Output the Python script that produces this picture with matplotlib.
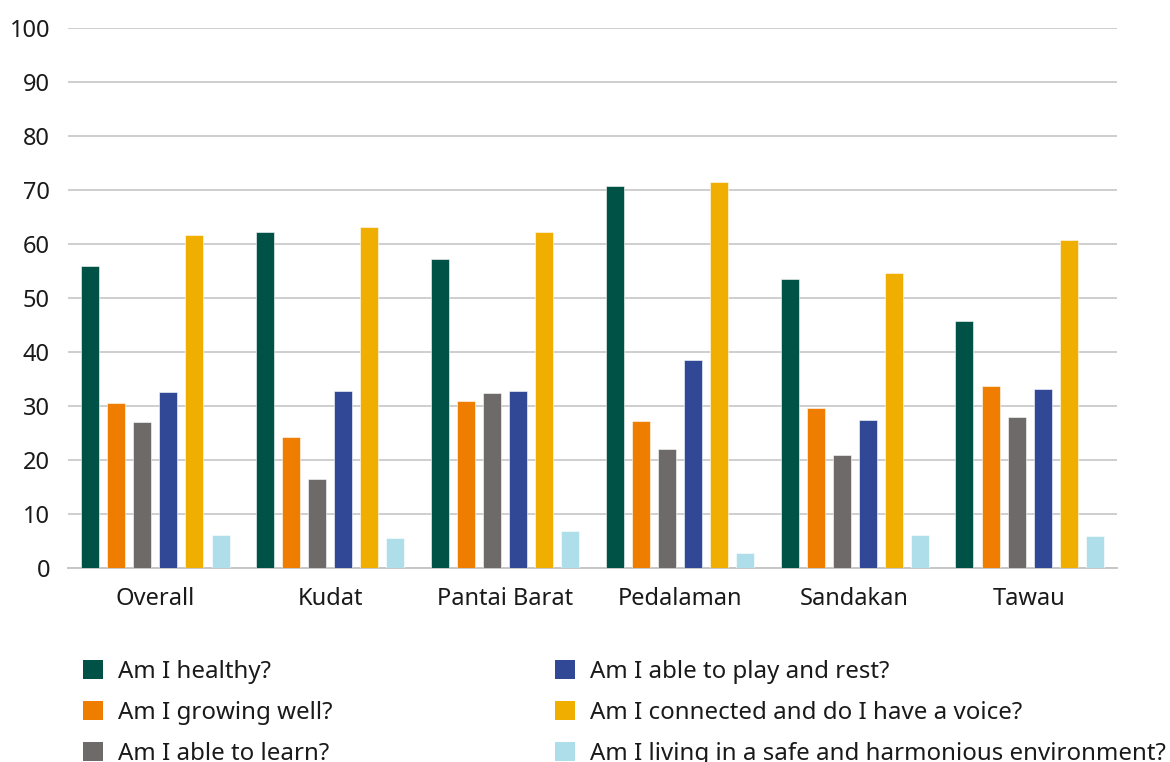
import numpy as np
import matplotlib
matplotlib.use("Agg")
import matplotlib.pyplot as plt
from matplotlib.patches import Patch

plt.rcParams['font.family'] = ['Noto Sans', 'DejaVu Sans']

regions = ["Overall", "Kudat", "Pantai Barat", "Pedalaman", "Sandakan", "Tawau"]
questions = [
    "Am I healthy?",
    "Am I growing well?",
    "Am I able to learn?",
    "Am I able to play and rest?",
    "Am I connected and do I have a voice?",
    "Am I living in a safe and harmonious environment?",
]
healthy = [55.9, 62.3, 57.3, 70.8, 53.5, 45.8]
growing = [30.6, 24.2, 31.0, 27.3, 29.7, 33.7]
learn = [27.1, 16.5, 32.4, 22.1, 21.0, 28.0]
play = [32.6, 32.8, 32.8, 38.5, 27.5, 33.2]
connected = [61.6, 63.1, 62.2, 71.4, 54.7, 60.7]
safe = [6.1, 5.6, 6.9, 2.8, 6.1, 5.9]
series = [healthy, growing, learn, play, connected, safe]
colors = ["#005246", "#ef7d00", "#6f6a6a", "#314897", "#f0ae00", "#addeea"]

fig = plt.figure(figsize=(11.7, 7.62), dpi=100)
ax = fig.add_axes([68 / 1170, 1 - 568 / 762, 1049 / 1170, 540 / 762])

x = np.arange(len(regions))
pitch = 0.149
width = 0.103
for i, (vals, col) in enumerate(zip(series, colors)):
    ax.bar(x + (i - 2.5) * pitch, vals, width=width, color=col,
           edgecolor="white", linewidth=0.4, zorder=3)

ax.set_xlim(-0.5, len(regions) - 0.5)
ax.set_ylim(0, 100)
ax.set_yticks(range(0, 101, 10))
ax.set_xticks(x)
ax.set_xticklabels(regions)
ax.grid(axis="y", color="#c6c6c6", linewidth=1.2, zorder=0)
for side in ["left", "right", "top"]:
    ax.spines[side].set_visible(False)
ax.spines["bottom"].set_color("#c6c6c6")
ax.spines["bottom"].set_linewidth(1.4)
ax.tick_params(axis="both", length=0, labelsize=17, labelcolor="#1a1a1a")
ax.tick_params(axis="y", pad=13)
ax.tick_params(axis="x", pad=13.5)

handles = [Patch(facecolor=c, edgecolor="none") for c in colors]
leg_kw = dict(frameon=False, fontsize=17.3, handlelength=0.85, handleheight=0.85,
              handletextpad=0.6, labelspacing=0.7, borderpad=0, borderaxespad=0,
              labelcolor="#1a1a1a")
fig.legend(handles[:3], questions[:3], loc="upper left",
           bbox_to_anchor=(83 / 1170, 1 - 660 / 762), **leg_kw)
fig.legend(handles[3:], questions[3:], loc="upper left",
           bbox_to_anchor=(555 / 1170, 1 - 660 / 762), **leg_kw)

fig.savefig("out.png", dpi=100)
